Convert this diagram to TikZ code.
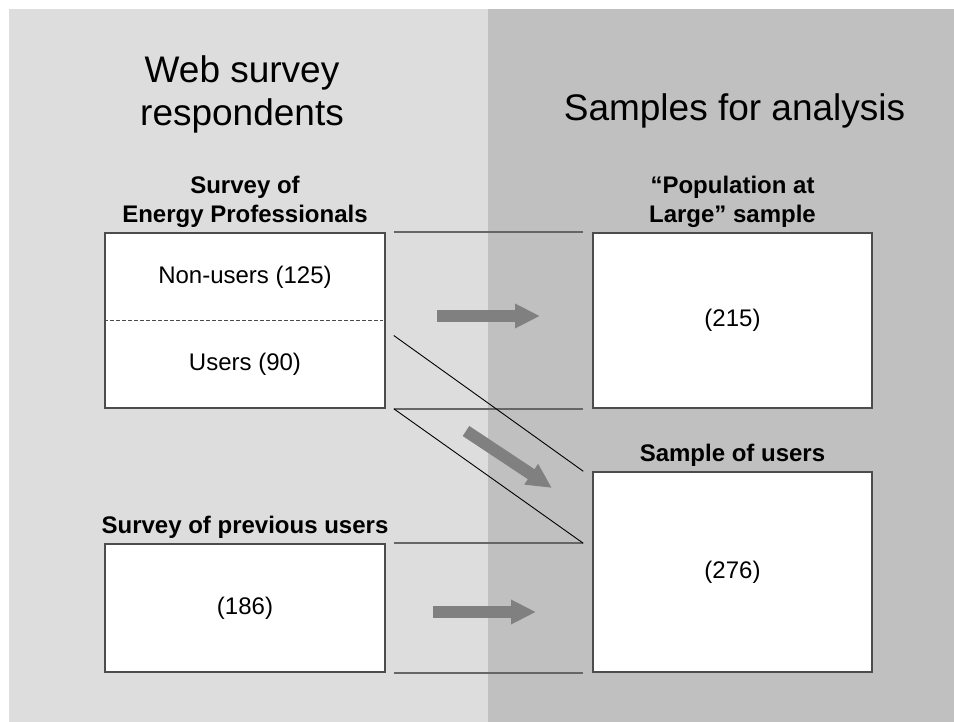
\documentclass[tikz,border=0pt]{standalone}
\usepackage{fontspec}
\setmainfont{Liberation Sans}
\usepackage{tikz}
\usetikzlibrary{arrows.meta,positioning}
\definecolor{leftpane}{gray}{0.867}
\definecolor{rightpane}{gray}{0.753}
\definecolor{flowgray}{gray}{0.5}

\begin{document}
\begin{tikzpicture}[x=1pt,y=-1pt,font=\fontsize{24}{29}\selectfont,
    box/.style={draw=black!70,line width=1.5pt,fill=white,inner sep=0pt,minimum width=280pt},
    boxtitle/.style={font=\fontsize{24}{29}\selectfont\bfseries,align=center,inner sep=0pt},
    head/.style={font=\fontsize{37}{43}\selectfont,align=center,inner sep=0pt},
    link/.style={draw=black!60,line width=2pt},
    slant/.style={draw=black,line width=0.9pt},
    flow/.style={flowgray,line width=12pt,-{Triangle[length=25pt,width=23pt]}}]
  \useasboundingbox (0,0) rectangle (954,722);
  % ---------------- the two panels
  \fill[leftpane] (9,9) rectangle (488,722);
  \fill[rightpane] (488,9) rectangle (954,722);
  \node[head,anchor=north] (webHead) at (242,55) {Web survey\\respondents};
  \node[head,anchor=base] (sampleHead) at (734.5,121) {Samples for analysis};
  % ---------------- source surveys (left)
  \node[box,minimum height=175pt] (epBox) at (245,320.5) {};
  \node[boxtitle,above=4.5pt of epBox] (epTitle) {Survey of\\Energy Professionals};
  \draw[black!70,line width=1pt,dash pattern=on 4pt off 2pt] (epBox.west) -- ([xshift=-3pt]epBox.east);
  \node (nonUsers) at (245,277) {Non-users (125)};
  \node (users) at (245,364) {Users (90)};
  \node[box,minimum height=128pt] (prevBox) at (245,608) {(186)};
  \node[boxtitle,above=4.5pt of prevBox] (prevTitle) {Survey of previous users};
  % ---------------- samples (right)
  \node[box,minimum width=279pt,minimum height=175pt] (popBox) at (732.5,320.5) {(215)};
  \node[boxtitle,above=4.5pt of popBox] (popTitle) {``Population at\\Large'' sample};
  \node[box,minimum width=279pt,minimum height=200pt] (userBox) at (732.5,572) {(276)};
  \node[boxtitle,above=4.5pt of userBox] (userTitle) {Sample of users};
  % ---------------- connecting lines
  \coordinate (userSplit) at ([xshift=-9pt]userBox.west |- prevBox.north);
  \draw[link] ([xshift=8pt]epBox.north east) -- ([xshift=-9pt]popBox.north west);
  \draw[link] ([xshift=8pt]epBox.south east) -- ([xshift=-9pt]popBox.south west);
  \draw[link] ([xshift=8pt]prevBox.north east) -- (userSplit);
  \draw[link] ([xshift=8pt]prevBox.south east) -- ([xshift=-9pt]userBox.south west);
  \draw[slant] ([shift={(8,15)}]epBox.east) -- ([xshift=-9pt]userBox.north west);
  \draw[slant] ([xshift=8pt]epBox.south east) -- (userSplit);
  % ---------------- flow arrows
  \coordinate (popFrom) at (437,316);
  \coordinate (popTo) at (540,316);
  \coordinate (userFrom) at (466,431);
  \coordinate (userTo) at (552,488);
  \coordinate (prevFrom) at (433,612);
  \coordinate (prevTo) at (536,612);
  \draw[flow] (popFrom) -- (popTo);
  \draw[flow] (userFrom) -- (userTo);
  \draw[flow] (prevFrom) -- (prevTo);
\end{tikzpicture}
\end{document}
